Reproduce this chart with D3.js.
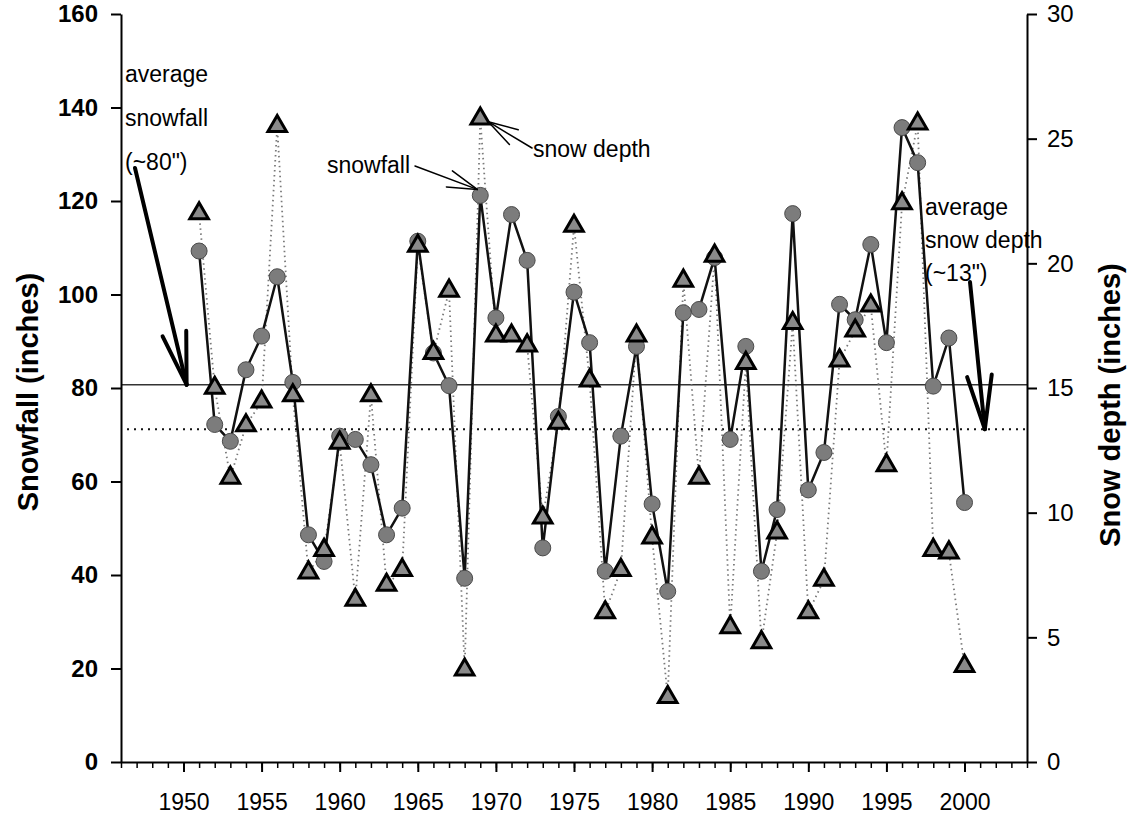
<!DOCTYPE html>
<html>
<head>
<meta charset="utf-8">
<script src="https://cdn.jsdelivr.net/npm/d3@7"></script>
<style>
  body { margin: 0; background: #fff; }
  svg { display: block; font-family: "Liberation Sans", Arial, sans-serif; }
</style>
</head>
<body>
<div id="chart"></div>
<script>
// snowfall (left axis, circles) and snow depth (right axis, triangles), 1951-2000
const years = d3.range(1951, 2001);
const snowfall = [109.3, 72.2, 68.6, 83.9, 91.1, 103.8, 81.2, 48.6, 42.9, 69.7,
                  69.0, 63.6, 48.6, 54.3, 111.4, 87.5, 80.5, 39.3, 121.2, 95.0,
                  117.1, 107.3, 45.8, 73.9, 100.5, 89.7, 40.8, 69.7, 88.9, 55.2,
                  36.5, 96.1, 96.8, 107.9, 69.0, 88.9, 40.8, 54.0, 117.3, 58.2,
                  66.2, 97.9, 94.6, 110.7, 89.7, 135.7, 128.2, 80.4, 90.7, 55.5];
const snowDepth = [22.0, 15.0, 11.4, 13.5, 14.45, 25.5, 14.7, 7.6, 8.5, 12.8,
                   6.5, 14.7, 7.1, 7.7, 20.7, 16.4, 18.9, 3.7, 25.8, 17.1,
                   17.1, 16.7, 9.8, 13.6, 21.5, 15.3, 6.0, 7.7, 17.1, 9.0,
                   2.6, 19.3, 11.4, 20.3, 5.4, 16.0, 4.8, 9.2, 17.6, 6.0,
                   7.3, 16.1, 17.3, 18.3, 11.9, 22.4, 25.6, 8.5, 8.4, 3.85];
const avgSnowfall = 80.7;
const avgDepth = 13.35;
const yearTicks = d3.range(1946, 2005);
const yearLabels = d3.range(1950, 2001, 5);
const snowTicks = [0, 20, 40, 60, 80, 100, 120, 140, 160];
const depthTicks = [0, 5, 10, 15, 20, 25, 30];

const width = 1128, height = 821;
const plotLeft = 121, plotRight = 1027, plotTop = 14, plotBottom = 762;

const svg = d3.select("#chart").append("svg")
    .attr("width", width)
    .attr("height", height);

const x = d3.scaleLinear().domain([1946, 2004]).range([plotLeft, plotRight]);
const yL = d3.scaleLinear().domain([0, 160]).range([plotBottom, plotTop]);
const yR = d3.scaleLinear().domain([0, 30]).range([plotBottom, plotTop]);

// average lines
svg.append("line")
    .attr("x1", plotLeft).attr("x2", plotRight)
    .attr("y1", yL(avgSnowfall)).attr("y2", yL(avgSnowfall))
    .attr("stroke", "#333").attr("stroke-width", 1.3);
svg.append("line")
    .attr("x1", plotLeft + 6).attr("x2", plotRight)
    .attr("y1", yR(avgDepth)).attr("y2", yR(avgDepth))
    .attr("stroke", "#111").attr("stroke-width", 2)
    .attr("stroke-dasharray", "2,5");

// axes
function styleAxis(g, size, weight) {
    g.selectAll("text")
        .attr("font-family", "'Liberation Sans', Arial, sans-serif")
        .attr("font-size", size)
        .attr("font-weight", weight)
        .attr("fill", "#000");
    g.selectAll("line, path").attr("stroke", "#000").attr("stroke-width", 2);
}

svg.append("g")
    .attr("transform", "translate(" + plotLeft + ",0)")
    .call(d3.axisLeft(yL).tickValues(snowTicks).tickSize(10).tickSizeOuter(0).tickPadding(13))
    .call(g => styleAxis(g, 24, "bold"));

svg.append("g")
    .attr("transform", "translate(" + plotRight + ",0)")
    .call(d3.axisRight(yR).tickValues(depthTicks).tickSize(10).tickSizeOuter(0).tickPadding(10))
    .call(g => styleAxis(g, 24, "normal"));

svg.append("g")
    .attr("transform", "translate(0," + plotBottom + ")")
    .call(d3.axisBottom(x).tickValues(yearTicks).tickSize(6).tickSizeOuter(0).tickFormat(""))
    .call(g => styleAxis(g, 23, "normal"))
    .call(g => g.selectAll(".tick line").attr("stroke-width", 1.5));

svg.append("g")
    .attr("transform", "translate(0," + plotBottom + ")")
    .call(d3.axisBottom(x).tickValues(yearLabels).tickSize(10).tickSizeOuter(0).tickPadding(22).tickFormat(d3.format("d")))
    .call(g => styleAxis(g, 23, "normal"))
    .call(g => g.select(".domain").remove());

// axis titles
svg.append("text")
    .attr("transform", "translate(38,392) rotate(-90)")
    .attr("text-anchor", "middle")
    .attr("font-size", 29).attr("font-weight", "bold")
    .text("Snowfall (inches)");
svg.append("text")
    .attr("transform", "translate(1120,405) rotate(-90)")
    .attr("text-anchor", "middle")
    .attr("font-size", 29).attr("font-weight", "bold")
    .text("Snow depth (inches)");

// series
const depthLine = d3.line().x((d, i) => x(years[i])).y(d => yR(d));
const snowLine = d3.line().x((d, i) => x(years[i])).y(d => yL(d));

svg.append("path")
    .datum(snowDepth)
    .attr("d", depthLine)
    .attr("fill", "none")
    .attr("stroke", "#7a7a7a")
    .attr("stroke-width", 1.8)
    .attr("stroke-dasharray", "1.5,3.5");

svg.append("path")
    .datum(snowfall)
    .attr("d", snowLine)
    .attr("fill", "none")
    .attr("stroke", "#111")
    .attr("stroke-width", 2.5);

svg.append("g")
    .selectAll("circle")
    .data(snowfall).enter()
    .append("circle")
    .attr("cx", (d, i) => x(years[i]))
    .attr("cy", d => yL(d))
    .attr("r", 8)
    .attr("fill", "#7c7c7c")
    .attr("stroke", "#4a4a4a")
    .attr("stroke-width", 1);

const tri = d3.symbol().type(d3.symbolTriangle).size(150);
svg.append("g")
    .selectAll("path")
    .data(snowDepth).enter()
    .append("path")
    .attr("d", tri)
    .attr("transform", (d, i) => "translate(" + x(years[i]) + "," + yR(d) + ")")
    .attr("fill", "#8a8a8a")
    .attr("stroke", "#000")
    .attr("stroke-width", 3)
    .attr("stroke-linejoin", "miter");

// annotations
function arrow(x1, y1, x2, y2, len, angle, w) {
    const back = Math.atan2(y1 - y2, x1 - x2);
    const a = angle * Math.PI / 180;
    const g = svg.append("g").attr("stroke", "#000").attr("stroke-width", w).attr("stroke-linecap", "round");
    g.append("line").attr("x1", x1).attr("y1", y1).attr("x2", x2).attr("y2", y2);
    [back - a, back + a].forEach(t => {
        g.append("line")
            .attr("x1", x2 + len * Math.cos(t)).attr("y1", y2 + len * Math.sin(t))
            .attr("x2", x2).attr("y2", y2);
    });
}

function label(lines, x0, y0, step) {
    const t = svg.append("text").attr("font-size", 23).attr("fill", "#000");
    lines.forEach((s, i) => t.append("tspan").attr("x", x0).attr("y", y0 + i * step).text(s));
}

label(["average", "snowfall", "(~80\")"], 125, 82, 44);
arrow(135, 168, x(1950.2), yL(avgSnowfall), 54, 13, 4);

label(["average", "snow depth", "(~13\")"], 925, 215, 33);
arrow(970, 282, x(2001.3), yR(avgDepth), 55, 13, 4);

label(["snowfall"], 327, 173, 0);
arrow(415, 166, x(1969) - 3, yL(snowfall[18]) - 6, 31, 16, 1.5);

label(["snow depth"], 533, 157, 0);
arrow(532, 148, x(1969) + 8, yR(snowDepth[18]) + 3, 31, 16, 1.5);
</script>
</body>
</html>
